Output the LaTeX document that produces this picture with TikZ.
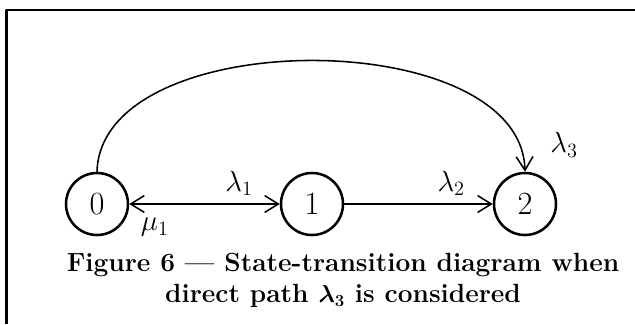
\documentclass[tikz,border=0pt]{standalone}
\usepackage{tikz}
\usetikzlibrary{arrows.meta,positioning,calc}
\tikzset{
    every picture/.style={line cap=round,line join=round},
    statenode/.style={draw,circle,line width=1.8pt,minimum size=1.55cm,
      inner sep=0pt,font=\fontsize{23}{26}\selectfont},
    flowarrow/.style={->,line width=1.1pt},
    ratelabel/.style={inner sep=1pt,font=\fontsize{21}{24}\selectfont},
    framerule/.style={line width=2pt,line cap=butt},
    captiontext/.style={align=center,
      font=\fontsize{18.7}{22}\selectfont\bfseries\boldmath}
}
\begin{document}
\begin{tikzpicture}[>={Straight Barb[length=3.4mm,width=4.2mm]}]
  \useasboundingbox (0,0) rectangle (15.875,-8.1);
  \draw[framerule] (0.1675,-8.1) -- (0.1675,-0.25) -- (15.875,-0.25);
  \node[statenode] (s0) at (2.425,-5.1) {0};
  \node[statenode] (s1) at (7.8,-5.1) {1};
  \node[statenode] (s2) at (13.125,-5.1) {2};
  \draw[flowarrow,<->] (s0) -- node[ratelabel,pos=0.73,above=1.5mm] (l1) {$\lambda_1$}
    node[ratelabel,pos=0.17,below=3mm] (m1) {$\mu_1$} (s1);
  \draw[flowarrow] (s1) -- node[ratelabel,pos=0.72,above=1.5mm] (l2) {$\lambda_2$} (s2);
  \draw[flowarrow] (s0.north) .. controls +(0.1,3.7) and +(-0.1,3.7) .. (s2.north);
  \node[ratelabel] (l3) at (14.1,-3.62) {$\lambda_3$};
  \node[captiontext] (cap) at (8.575,-7.01) {Figure 6 — State-transition diagram when\\
    direct path $\lambda_3$ is considered};
\end{tikzpicture}
\end{document}
